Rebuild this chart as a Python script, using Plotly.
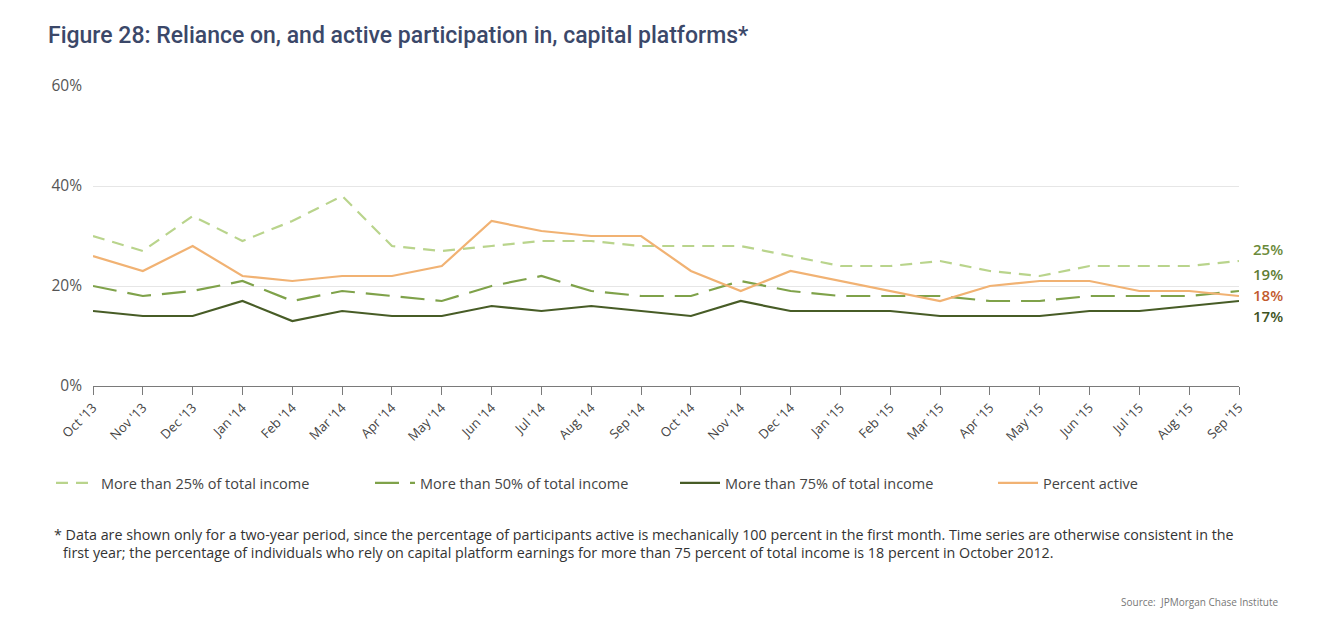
import plotly.graph_objects as go

months = ["Oct '13", "Nov '13", "Dec '13", "Jan '14", "Feb '14", "Mar '14", "Apr '14", "May '14",
          "Jun '14", "Jul '14", "Aug '14", "Sep '14", "Oct '14", "Nov '14", "Dec '14", "Jan '15",
          "Feb '15", "Mar '15", "Apr '15", "May '15", "Jun '15", "Jul '15", "Aug '15", "Sep '15"]

more_25 = [30, 27, 34, 29, 33, 38, 28, 27, 28, 29, 29, 28, 28, 28, 26, 24, 24, 25, 23, 22, 24, 24, 24, 25]
more_50 = [20, 18, 19, 21, 17, 19, 18, 17, 20, 22, 19, 18, 18, 21, 19, 18, 18, 18, 17, 17, 18, 18, 18, 19]
more_75 = [15, 14, 14, 17, 13, 15, 14, 14, 16, 15, 16, 15, 14, 17, 15, 15, 15, 14, 14, 14, 15, 15, 16, 17]
pct_active = [26, 23, 28, 22, 21, 22, 22, 24, 33, 31, 30, 30, 23, 19, 23, 21, 19, 17, 20, 21, 21, 19, 19, 18]

y_ticks = [0, 20, 40, 60]
y_tick_labels = ["0%", "20%", "40%", "60%"]

# The page body has an 8px margin, so the figure is 16px smaller than the window
W, H = 1310, 607
L, R, T, B = 85, 1231, 78, 378   # plot area in figure pixels
PW, PH = R - L, B - T

def px_x(x):
    return (x - L) / PW

def px_y(y):
    return (B - y) / PH

series = [
    ("More than 25% of total income", more_25, "#b9d48c", "12px,8px", "legend", 43),
    ("More than 50% of total income", more_50, "#7fa24a", "24px,11px", "legend2", 362),
    ("More than 75% of total income", more_75, "#475c26", "solid", "legend3", 667),
    ("Percent active", pct_active, "#f1b273", "solid", "legend4", 985),
]

fig = go.Figure()
for name, vals, color, dash, leg, _ in series:
    fig.add_trace(go.Scatter(x=months, y=vals, mode="lines", name=name, legend=leg,
                             line=dict(color=color, dash=dash, width=2.2)))

# end-of-line value labels (nudged apart vertically to avoid overlap)
label_order = [(more_25, "#6b8a3a", 12), (more_50, "#5f7d33", 17), (pct_active, "#c25a2e", 1), (more_75, "#3e5222", -15)]
for vals, col, ys in label_order:
    fig.add_annotation(x=months[-1], y=vals[-1], text=f"{vals[-1]}%", showarrow=False,
                       xanchor="left", xshift=12, yshift=ys,
                       font=dict(family="Open Sans", size=15, color=col, weight=600))

legend_font = dict(family="Open Sans", size=14.5, color="#444444")
legends = {}
for _, _, _, _, leg, lx in series:
    legends[leg] = dict(orientation="h", x=px_x(lx), xanchor="left", y=px_y(475), yanchor="middle",
                        itemwidth=40, font=legend_font, bgcolor="rgba(0,0,0,0)")

fig.update_layout(
    width=W, height=H,
    margin=dict(l=L, r=W - R, t=T, b=H - B, autoexpand=False),
    paper_bgcolor="white", plot_bgcolor="white",
    title=dict(text="Figure 28: Reliance on, and active participation in, capital platforms*",
               x=40 / W, xanchor="left", xref="container",
               y=1 - 27 / H, yanchor="middle", yref="container",
               font=dict(family="Roboto", size=23, color="#3b4869", weight=500)),
    showlegend=True,
    xaxis=dict(range=[0, 23], showgrid=False, showline=True, linecolor="#7a7a7a", linewidth=1.2,
               ticks="outside", ticklen=8, tickcolor="#7a7a7a", tickangle=-45,
               tickfont=dict(family="Open Sans", size=13, color="#444444"), fixedrange=True),
    yaxis=dict(range=[0, 60], tickvals=y_ticks, ticktext=y_tick_labels, showgrid=True,
               gridcolor="#e6e6e6", gridwidth=1, zeroline=False, showline=False,
               ticks="", ticklabelstandoff=10,
               tickfont=dict(family="Open Sans", size=15.5, color="#555555")),
    **legends,
)

fig.add_annotation(xref="paper", yref="paper", x=px_x(44), y=px_y(526), xanchor="left", yanchor="middle",
                   text="* Data are shown only for a two-year period, since the percentage of participants active is mechanically 100 percent in the first month. Time series are otherwise consistent in the",
                   showarrow=False, align="left",
                   font=dict(family="Open Sans", size=14.3, color="#333333"))
fig.add_annotation(xref="paper", yref="paper", x=px_x(53), y=px_y(544), xanchor="left", yanchor="middle",
                   text="first year; the percentage of individuals who rely on capital platform earnings for more than 75 percent of total income is 18 percent in October 2012.",
                   showarrow=False, align="left",
                   font=dict(family="Open Sans", size=14.3, color="#333333"))
fig.add_annotation(xref="paper", yref="paper", x=px_x(1272), y=px_y(594), xanchor="right", yanchor="middle",
                   text="Source:  JPMorgan Chase Institute", showarrow=False,
                   font=dict(family="Open Sans", size=10, color="#777777"))

fig.write_html("out.html")
